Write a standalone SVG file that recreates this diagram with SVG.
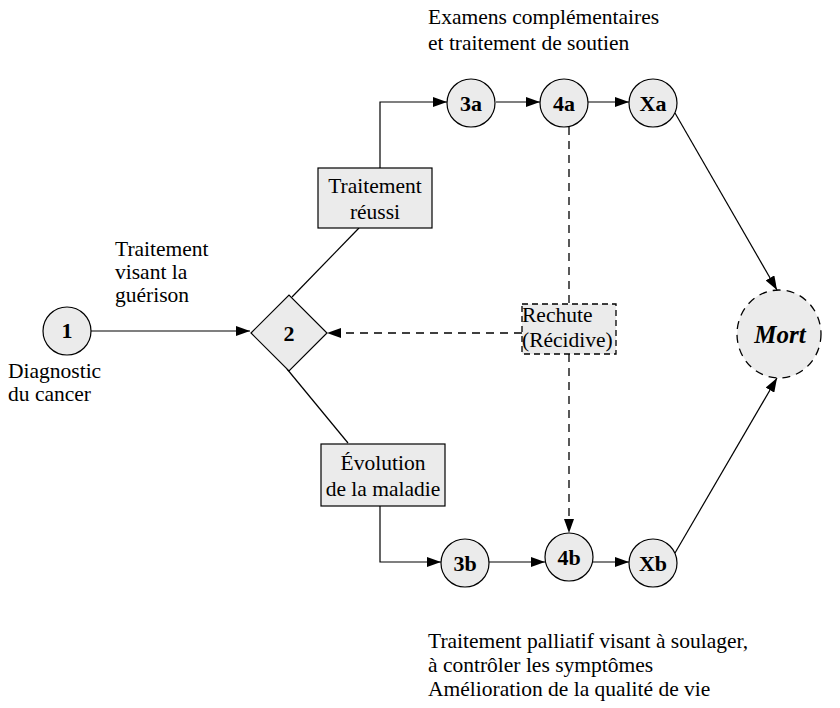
<svg xmlns="http://www.w3.org/2000/svg" width="840" height="708" viewBox="0 0 840 708">
<defs>
<style>
.t{font-family:"Liberation Serif","Times New Roman",serif;font-size:21.5px;fill:#000}
.b{font-family:"Liberation Serif","Times New Roman",serif;font-size:22px;font-weight:bold;fill:#000;text-anchor:middle}
.n{fill:#ebebeb;stroke:#000;stroke-width:1.2}
.l{fill:none;stroke:#000;stroke-width:1.2}
.d{fill:none;stroke:#000;stroke-width:1.3;stroke-dasharray:8,6}
</style>
<marker id="a" viewBox="0 0 14 10" refX="14" refY="5" markerWidth="14" markerHeight="10" markerUnits="userSpaceOnUse" orient="auto">
<path d="M0,0 L14,5 L0,10 Z" fill="#000"/>
</marker>
</defs>
<rect width="840" height="708" fill="#fff"/>
<g id="connectors">
<line class="l" x1="91" y1="331" x2="250" y2="331" marker-end="url(#a)"/>
<line class="l" x1="292" y1="297" x2="359" y2="228"/>
<polyline class="l" points="380,168 380,102 447,102" marker-end="url(#a)"/>
<line class="l" x1="496" y1="102" x2="540" y2="102" marker-end="url(#a)"/>
<line class="l" x1="588" y1="102" x2="629" y2="102" marker-end="url(#a)"/>
<line class="l" x1="675" y1="113" x2="777" y2="290" marker-end="url(#a)"/>
<line class="l" x1="287" y1="369" x2="348" y2="443"/>
<polyline class="l" points="380,506 380,562 441,562" marker-end="url(#a)"/>
<line class="l" x1="489" y1="562" x2="545" y2="562" marker-end="url(#a)"/>
<line class="l" x1="593" y1="562" x2="629" y2="562" marker-end="url(#a)"/>
<line class="l" x1="675" y1="553" x2="777" y2="378" marker-end="url(#a)"/>
<line class="d" x1="569" y1="127" x2="569" y2="304"/>
<line class="d" x1="569" y1="354" x2="569" y2="533" marker-end="url(#a)"/>
<line class="d" x1="522" y1="333" x2="327" y2="333" marker-end="url(#a)"/>
</g>
<g id="node1">
<circle class="n" cx="67" cy="331" r="24"/>
<text class="b" x="67" y="338">1</text>
</g>
<g id="node2">
<polygon class="n" points="251,333 289,295 327,333 289,371"/>
<text class="b" x="289" y="341">2</text>
</g>
<g id="boxReussi">
<rect class="n" x="318" y="168" width="114" height="60"/>
<text class="t" x="375" y="193" text-anchor="middle">Traitement</text>
<text class="t" x="375" y="219" text-anchor="middle">réussi</text>
</g>
<g id="node3a">
<circle class="n" cx="471" cy="103" r="24"/>
<text class="b" x="471" y="111">3a</text>
</g>
<g id="node4a">
<circle class="n" cx="564" cy="103" r="24"/>
<text class="b" x="564" y="111">4a</text>
</g>
<g id="nodeXa">
<circle class="n" cx="653" cy="103" r="24"/>
<text class="b" x="653" y="111">Xa</text>
</g>
<g id="boxRechute">
<rect x="522" y="304" width="94" height="50" fill="#ebebeb" stroke="#000" stroke-width="1.3" stroke-dasharray="6,4"/>
<text class="t" x="522" y="322">Rechute</text>
<text class="t" x="522" y="347">(Récidive)</text>
</g>
<g id="nodeMort">
<ellipse cx="779" cy="334" rx="42" ry="44" fill="#ebebeb" stroke="#000" stroke-width="1.3" stroke-dasharray="8,6"/>
<text x="780" y="343" text-anchor="middle" style="font-family:'Liberation Serif','Times New Roman',serif;font-size:25px;font-weight:bold;font-style:italic">Mort</text>
</g>
<g id="boxEvolution">
<rect class="n" x="321" y="444" width="124" height="62"/>
<text class="t" x="383" y="470" text-anchor="middle">Évolution</text>
<text class="t" x="383" y="496" text-anchor="middle">de la maladie</text>
</g>
<g id="node3b">
<circle class="n" cx="465" cy="563" r="24"/>
<text class="b" x="465" y="571">3b</text>
</g>
<g id="node4b">
<circle class="n" cx="569" cy="557" r="24"/>
<text class="b" x="569" y="565">4b</text>
</g>
<g id="nodeXb">
<circle class="n" cx="653" cy="563" r="24"/>
<text class="b" x="653" y="571">Xb</text>
</g>
<g id="labels">
<text class="t" x="428" y="24">Examens complémentaires</text>
<text class="t" x="428" y="50">et traitement de soutien</text>
<text class="t" x="115" y="256">Traitement</text>
<text class="t" x="115" y="279">visant la</text>
<text class="t" x="115" y="302">guérison</text>
<text class="t" x="8" y="378">Diagnostic</text>
<text class="t" x="8" y="401">du cancer</text>
<text class="t" x="428" y="648">Traitement palliatif visant à soulager,</text>
<text class="t" x="428" y="672">à contrôler les symptômes</text>
<text class="t" x="428" y="696">Amélioration de la qualité de vie</text>
</g>
</svg>
